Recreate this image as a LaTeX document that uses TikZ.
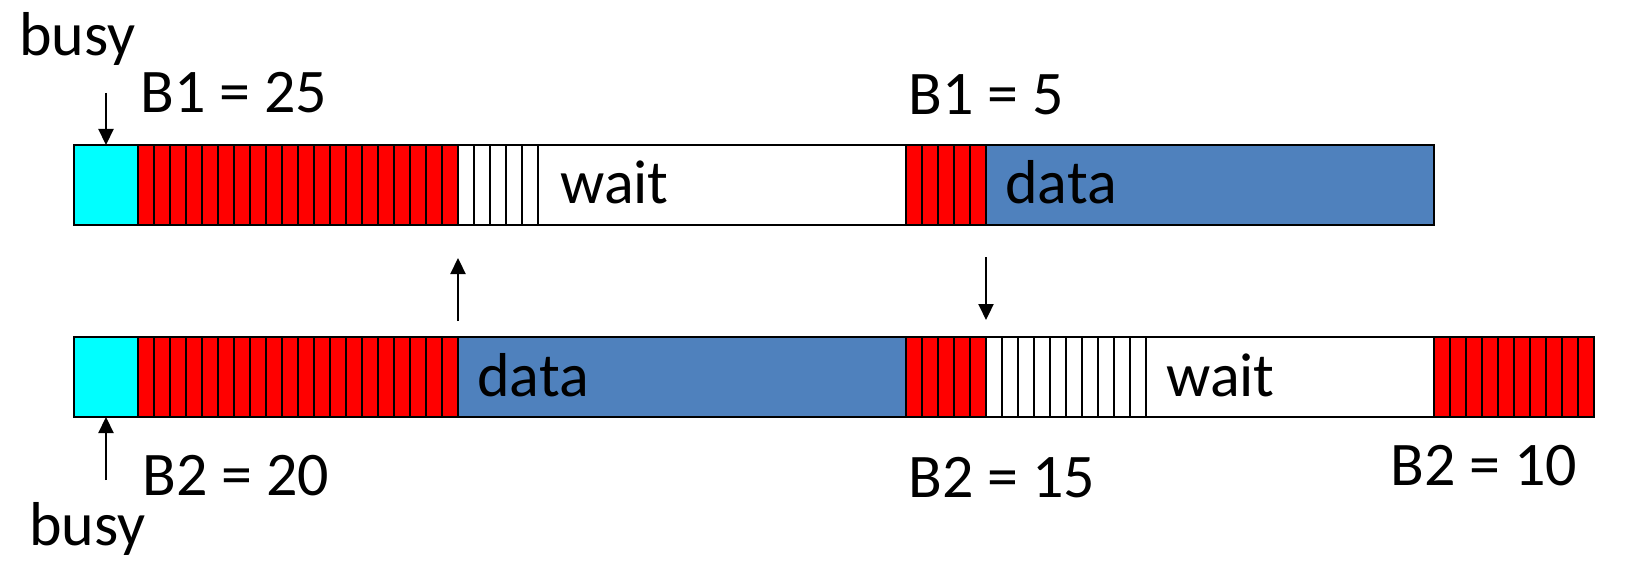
\documentclass[tikz,border=0pt]{standalone}
\usepackage{fontspec}
\setmainfont{Carlito}
\usetikzlibrary{arrows.meta}
\definecolor{databl}{HTML}{4F81BD}
\definecolor{busyc}{HTML}{00FFFF}
\definecolor{slotred}{HTML}{FF0000}
\begin{document}
\begin{tikzpicture}[x=0.5pt,y=-0.5pt,
  cell/.style={draw=black, line width=0.8pt, anchor=north west, inner sep=0pt, outer sep=0pt, minimum height=40pt},
  slotr/.style={cell, fill=slotred, minimum width=8pt},
  slotw/.style={cell, fill=white, minimum width=8pt},
  busybox/.style={cell, fill=busyc, minimum width=32pt},
  databox/.style={cell, fill=databl},
  waitbox/.style={cell, fill=white},
  lbl/.style={anchor=base west, inner sep=0pt, font=\fontsize{31pt}{37pt}\selectfont},
  arr/.style={line width=1.1pt, -{Triangle[length=8pt,width=7.5pt]}}
]
\useasboundingbox (0,0) rectangle (1625,561);
% ---- row 1 ----
\node[busybox] (r1c) at (74,145) {};
\foreach \i in {0,...,19} \node[slotr] (r1r\i) at ({74+16*(4+\i)},145) {};
\foreach \i in {0,...,4} \node[slotw] (r1w\i) at ({74+16*(24+\i)},145) {};
\node[waitbox, minimum width=184pt] (r1wait) at ({74+16*29},145) {};
\foreach \i in {0,...,4} \node[slotr] (r1q\i) at ({74+16*(52+\i)},145) {};
\node[databox, minimum width=224pt] (r1d) at ({74+16*57},145) {};
% ---- row 2 ----
\node[busybox] (r2c) at (74,337) {};
\foreach \i in {0,...,19} \node[slotr] (r2r\i) at ({74+16*(4+\i)},337) {};
\node[databox, minimum width=224pt] (r2d) at ({74+16*24},337) {};
\foreach \i in {0,...,4} \node[slotr] (r2q\i) at ({74+16*(52+\i)},337) {};
\foreach \i in {0,...,9} \node[slotw] (r2w\i) at ({74+16*(57+\i)},337) {};
\node[waitbox, minimum width=144pt] (r2wait) at ({74+16*67},337) {};
\foreach \i in {0,...,9} \node[slotr] (r2e\i) at ({74+16*(85+\i)},337) {};
% ---- texts ----
\node[lbl] (busyT) at (19,56) {busy};
\node[lbl] (b125) at (140,113) {B1 = 25};
\node[lbl] (b15) at (908,115) {B1 = 5};
\node[lbl] (wait1) at (560,204) {wait};
\node[lbl] (data1) at (1005,204) {data};
\node[lbl] (data2) at (477,396) {data};
\node[lbl] (wait2) at (1166,396) {wait};
\node[lbl] (b220) at (142,495) {B2 = 20};
\node[lbl] (b215) at (908,497) {B2 = 15};
\node[lbl] (b210) at (1390,485) {B2 = 10};
\node[lbl] (busyB) at (29,545) {busy};
% ---- arrows ----
\coordinate (a1s) at (106,93);
\draw[arr] (a1s) -- (r1c.north);
\coordinate (a2s) at (106,480);
\draw[arr] (a2s) -- (r2c.south);
\coordinate (upS) at (458,321);
\coordinate (upE) at (458,258);
\draw[arr] (upS) -- (upE);
\coordinate (dnS) at (986,257);
\coordinate (dnE) at (986,320);
\draw[arr] (dnS) -- (dnE);
\end{tikzpicture}
\end{document}
